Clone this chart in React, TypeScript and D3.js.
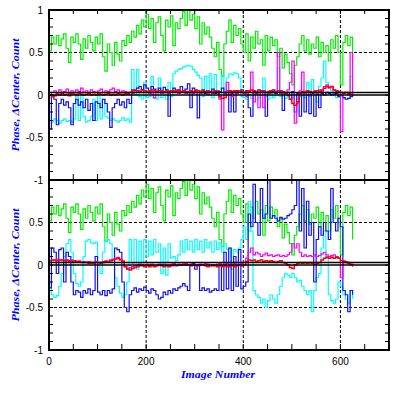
import React from 'react';
import * as d3 from 'd3';

// image numbers sampled every 5 frames
const images = d3.range(0, 626, 5);

// Count (same in both panels)
const count = [
  0.52, 0.68, 0.6, 0.7, 0.58, 0.66, 0.72, 0.55, 0.38, 0.68, 0.62, 0.72, 0.6, 0.42, 0.66, 0.55, 0.7, 0.62, 0.52, 0.68,
  0.6, 0.72, 0.45, 0.28, 0.6, 0.5, 0.35, 0.62, 0.48, 0.4, 0.64, 0.58, 0.7, 0.62, 0.75, 0.68, 0.82, 0.72, 0.88, 0.8,
  0.95, 0.78, 0.9, 0.62, 0.85, 0.92, 0.7, 0.52, 0.88, 0.8, 0.93, 0.58, 0.85, 0.78, 0.9, 0.98, 0.82, 1.0, 0.88, 0.95,
  0.78, 0.92, 0.6, 0.85, 0.72, 0.8, 0.68, 0.55, 0.45, 0.62, 0.3, 0.22, 0.6, 0.75, 0.88, 0.62, 0.82, 0.7, 0.78, 0.6,
  0.5, 0.72, 0.4, 0.68, 0.55, 0.75, 0.6, 0.65, 0.35, 0.7, 0.52, 0.68, 0.58, 0.65, 0.45, 0.55, 0.32, 0.48, 0.38, 0.25,
  0.12, 0.35, 0.45, 0.6, 0.7, 0.52, 0.65, 0.48, 0.6, 0.55, 0.68, 0.45, 0.62, 0.5, 0.58, 0.4, 0.65, 0.55, 0.7, 0.5,
  0.12, 0.62, 0.7, 0.58, 0.68, 0.3,
];

// top panel
const cyanTop = [
  -0.3, -0.32, -0.28, -0.3, -0.33, -0.3, -0.28, -0.31, -0.3, -0.32, -0.28, -0.02, -0.3, 0.0, -0.25, -0.32, -0.3, -0.25, -0.05, -0.3,
  0.0, -0.28, -0.05, -0.25, -0.27, -0.3, -0.28, -0.3, -0.32, -0.3, -0.27, -0.3, -0.28, -0.32, 0.3, 0.0, 0.3, -0.02, -0.05, 0.15,
  -0.03, -0.02, 0.22, -0.04, -0.05, 0.2, -0.03, 0.0, -0.05, 0.15, -0.02, 0.25, 0.28, 0.3, 0.31, 0.33, 0.34, 0.35, 0.34, 0.3,
  0.27, 0.23, 0.2, -0.02, 0.22, 0.0, 0.25, -0.03, 0.24, 0.02, -0.04, 0.23, 0.0, 0.2, 0.25, 0.24, 0.26, 0.25, 0.2, -0.02,
  -0.03, -0.05, 0.0, -0.04, 0.02, -0.05, -0.03, 0.0, 0.2, -0.02, -0.05, 0.02, -0.03, 0.0, 0.32, -0.02, 0.02, -0.04, -0.02, 0.03,
  -0.03, 0.0, -0.05, -0.02, 0.02, -0.03, 0.15, -0.02, 0.18, 0.05, -0.08, 0.1, 0.2, 0.4, 0.15, 0.1, 0.05, 0.02, -0.03, 0.0,
  -0.02, -0.04, -0.05, -0.04, 0.22, 0.0,
];
const blueTop = [
  -0.4, 0.0, -0.05, -0.35, -0.1, -0.05, -0.12, -0.08, -0.15, -0.35, -0.1, -0.05, -0.12, -0.08, -0.15, -0.05, -0.18, -0.1, -0.3, -0.08,
  -0.1, -0.15, -0.05, -0.1, -0.2, -0.38, -0.15, -0.1, -0.05, -0.12, -0.08, -0.15, -0.05, -0.1, 0.06, 0.05, 0.08, 0.1, 0.06, 0.12,
  0.08, 0.05, 0.1, 0.07, 0.04, 0.08, 0.05, 0.09, 0.06, -0.25, 0.05, 0.08, 0.04, 0.06, 0.1, 0.05, 0.07, 0.13, -0.15, 0.08,
  0.05, -0.27, 0.04, 0.06, 0.02, 0.05, 0.03, 0.07, 0.02, 0.05, 0.04, 0.08, 0.03, 0.05, -0.2, 0.02, -0.2, 0.05, 0.03, 0.06,
  0.02, 0.05, -0.15, -0.25, 0.04, 0.02, 0.06, 0.03, 0.05, -0.25, 0.02, 0.04, 0.06, 0.02, 0.03, 0.05, -0.18, 0.02, 0.03, -0.05,
  0.04, -0.2, 0.02, -0.25, 0.03, -0.2, 0.0, -0.22, 0.02, -0.25, 0.01, -0.15, 0.02, 0.0, 0.03, 0.02, 0.0, 0.01, 0.02, -0.02,
  0.0, -0.03, -0.05, -0.04, -0.02, 0.0,
];
const magentaTop = [
  0.0, 0.03, 0.05, 0.02, 0.06, 0.03, 0.04, 0.07, 0.02, 0.05, 0.03, 0.06, 0.04, 0.08, 0.03, 0.05, 0.02, 0.06, 0.04, 0.03,
  0.05, 0.07, 0.03, 0.05, 0.04, 0.06, 0.08, 0.04, 0.06, 0.03, 0.05, 0.04, 0.02, 0.03, 0.02, 0.03, 0.05, 0.04, 0.03, 0.05,
  0.04, 0.02, 0.04, -0.03, 0.03, 0.05, 0.02, 0.04, 0.03, 0.02, 0.04, 0.03, 0.05, 0.02, 0.04, 0.03, 0.02, 0.04, 0.03, 0.02,
  0.04, 0.03, 0.02, 0.04, 0.03, 0.01, 0.03, 0.02, 0.04, 0.03, -0.05, -0.41, 0.02, 0.15, 0.03, -0.02, 0.04, 0.02, 0.05, 0.03,
  0.02, -0.02, 0.05, 0.27, -0.08, 0.03, -0.15, 0.04, -0.15, 0.03, 0.02, 0.05, 0.03, 0.04, 0.5, 0.02, 0.04, 0.03, 0.06, 0.15,
  0.4, -0.33, -0.1, 0.05, 0.27, 0.02, 0.04, 0.0, 0.03, 0.05, 0.02, 0.06, 0.04, 0.1, 0.12, 0.08, 0.1, 0.06, 0.04, 0.03,
  -0.43, 0.02, 0.03, 0.0, 0.5, 0.02,
];
const redTop = [
  0.0, -0.02, -0.01, 0.01, 0.0, 0.02, 0.0, 0.01, -0.01, 0.02, 0.01, 0.0, 0.02, 0.01, 0.0, 0.01, 0.02, 0.0, 0.01, 0.0,
  0.02, 0.01, 0.0, 0.01, 0.02, 0.0, 0.01, 0.0, 0.02, 0.01, 0.0, 0.02, 0.01, 0.03, 0.05, 0.06, 0.05, 0.04, 0.06, 0.05,
  0.04, 0.05, 0.06, 0.05, 0.04, 0.05, 0.04, 0.03, 0.05, 0.04, 0.05, 0.04, 0.06, 0.05, 0.04, 0.05, 0.04, 0.03, 0.05, 0.04,
  0.06, 0.05, 0.04, 0.05, 0.04, 0.05, 0.04, 0.03, 0.05, 0.04, -0.02, -0.04, -0.03, 0.03, 0.05, 0.04, 0.05, 0.04, 0.05, 0.04,
  0.03, 0.05, 0.04, 0.06, 0.05, 0.04, 0.03, 0.05, 0.04, 0.03, 0.04, 0.05, 0.04, 0.03, 0.05, 0.04, 0.03, 0.02, 0.0, -0.05,
  -0.1, -0.12, -0.08, 0.02, 0.04, 0.03, 0.05, 0.04, 0.03, 0.04, 0.05, 0.04, 0.06, 0.08, 0.1, 0.09, 0.1, 0.06, 0.05, 0.04,
  0.03, 0.02, 0.03, 0.02, 0.01, 0.0,
];

// bottom panel
const cyanBottom = [
  -0.21, -0.35, -0.38, -0.36, -0.25, -0.1, 0.1, 0.25, 0.3, 0.15, -0.1, -0.22, -0.25, -0.2, 0.1, 0.28, 0.3, 0.26, 0.25, 0.27,
  0.0, -0.1, 0.15, 0.28, 0.3, 0.25, 0.05, -0.15, -0.25, -0.33, -0.38, -0.35, -0.2, 0.3, 0.02, 0.3, -0.05, 0.28, 0.0, 0.3,
  0.1, 0.28, 0.12, 0.3, 0.15, 0.25, -0.1, 0.2, -0.12, 0.25, 0.08, 0.1, 0.05, 0.12, 0.28, 0.15, 0.3, 0.18, 0.28, 0.15,
  0.3, 0.18, 0.28, 0.15, 0.3, 0.2, 0.27, 0.15, 0.28, 0.18, 0.26, 0.15, 0.25, 0.18, 0.2, -0.05, 0.18, 0.15, 0.2, 0.3,
  0.45, 0.3, 0.75, 0.4, -0.3, -0.35, -0.38, -0.45, -0.4, -0.5, -0.42, -0.35, -0.4, -0.45, -0.35, -0.25, -0.15, -0.1, -0.12, -0.15,
  -0.1, -0.15, -0.2, -0.18, -0.25, -0.3, -0.35, -0.3, -0.55, -0.3, -0.15, -0.1, 0.2, 0.4, 0.1, -0.35, -0.42, -0.45, -0.4, -0.2,
  -0.25, -0.35, -0.4, -0.45, -0.3, -0.4,
];
const blueBottom = [
  -0.27, 0.2, 0.15, -0.1, 0.18, 0.2, -0.2, 0.15, 0.1, -0.2, -0.35, -0.3, -0.32, -0.38, -0.3, -0.33, -0.28, -0.35, -0.3, 0.1,
  -0.32, -0.35, -0.3, -0.36, -0.3, -0.33, -0.28, 0.2, 0.18, 0.15, -0.2, -0.5, -0.55, -0.35, -0.3, -0.27, -0.32, -0.28, -0.3, -0.26,
  -0.3, -0.33, -0.28, -0.3, -0.35, -0.4, -0.38, -0.32, -0.35, -0.3, -0.33, -0.28, -0.3, -0.27, -0.25, -0.22, -0.25, -0.3, 0.0, 0.02,
  -0.05, 0.0, -0.3, -0.27, -0.3, -0.28, -0.32, -0.3, -0.28, -0.3, 0.0, -0.3, 0.15, -0.28, 0.2, -0.3, 0.1, -0.25, 0.18, -0.28,
  -0.25, -0.2, 0.6, 0.45, 0.95, 0.5, 0.35, 0.9, 0.55, 0.6, 1.0, 0.55, 0.58, 0.55, 0.52, 0.56, 0.54, 0.55, 0.58, 0.6,
  0.65, 0.7, 1.0, 0.4, 0.9, 0.2, 0.75, 0.35, 0.5, -0.2, 0.3, 0.45, 0.35, 0.5, 0.4, 0.3, 0.9, 0.5, 0.4, 0.55,
  0.45, -0.3, -0.35, -0.55, -0.3, -0.35,
];
const magentaBottom = [
  0.05, 0.06, 0.05, 0.07, 0.06, 0.05, 0.06, 0.05, 0.04, 0.06, 0.05, 0.04, 0.05, 0.03, 0.04, 0.03, 0.04, 0.02, 0.03, 0.04,
  0.02, 0.03, 0.04, 0.05, 0.04, 0.06, 0.07, 0.08, 0.09, 0.07, 0.05, -0.02, -0.05, -0.03, -0.02, -0.01, 0.0, 0.01, 0.0, -0.01,
  0.01, 0.0, 0.01, -0.01, 0.0, 0.01, 0.0, 0.01, 0.0, -0.01, 0.01, 0.02, 0.0, 0.01, 0.0, 0.01, 0.02, 0.0, 0.01, 0.0,
  -0.01, 0.0, 0.01, 0.0, 0.02, 0.01, 0.0, -0.01, 0.0, 0.01, 0.02, 0.0, 0.01, 0.02, 0.0, 0.01, 0.02, 0.03, 0.01, 0.02,
  0.03, 0.08, 0.15, 0.2, 0.12, 0.15, 0.13, 0.1, 0.12, 0.14, 0.11, 0.12, 0.1, 0.11, 0.12, 0.1, 0.11, 0.1, 0.12, 0.15,
  0.25, 0.2, 0.25, 0.15, 0.1, 0.12, 0.1, 0.11, 0.1, 0.12, 0.1, 0.11, 0.13, 0.15, 0.12, 0.1, 0.11, 0.12, 0.1, 0.08,
  -0.15, 0.05, 0.04, 0.03, 0.0, -0.02,
];
const redBottom = [
  0.05, 0.06, 0.06, 0.05, 0.06, 0.06, 0.05, 0.06, 0.05, 0.04, 0.05, 0.04, 0.04, 0.03, 0.03, 0.03, 0.02, 0.03, 0.02, 0.03,
  0.03, 0.02, 0.03, 0.04, 0.04, 0.05, 0.06, 0.07, 0.08, 0.06, 0.04, -0.02, -0.05, -0.06, -0.04, -0.03, -0.02, -0.01, -0.01, -0.02,
  -0.01, -0.02, -0.01, -0.02, -0.01, 0.0, -0.01, -0.02, -0.01, -0.02, -0.01, 0.0, -0.01, 0.0, 0.0, 0.01, 0.0, 0.0, -0.01, 0.0,
  0.0, -0.01, 0.0, 0.0, -0.01, -0.02, -0.01, 0.0, -0.01, -0.02, -0.01, -0.02, -0.01, -0.02, -0.02, -0.01, -0.02, -0.01, 0.0, -0.01,
  0.0, 0.04, 0.06, 0.05, 0.06, 0.04, 0.05, 0.06, 0.04, 0.05, 0.04, 0.05, 0.04, 0.03, 0.04, 0.05, 0.03, 0.02, 0.0, -0.03,
  -0.04, 0.0, 0.02, 0.03, 0.02, 0.03, 0.02, 0.03, 0.02, 0.01, 0.02, 0.03, 0.06, 0.08, 0.09, 0.08, 0.09, 0.08, 0.09, 0.08,
  0.05, 0.04, 0.03, 0.02, 0.01, 0.0,
];

const xTickLabels = [0, 200, 400, 600];
// the -1 of the top panel and the 1 of the bottom panel share one spot, printed once
const yTickLabelsTop = [1, 0.5, 0, -0.5, -1];
const yTickLabelsBottom = [0.5, 0, -0.5, -1];
const gridX = [200, 400, 600];
const gridY = [0.5, -0.5];
const zeroLines = [0, 0.03];

const W = 399;
const H = 399;
const left = 49;
const right = 389;

const x = d3.scaleLinear().domain([0, 700]).range([left, right]);

type Series = { values: number[]; color: string; width?: number };

const panels: { top: number; bottom: number; labels: number[]; series: Series[] }[] = [
  {
    top: 10,
    bottom: 180,
    labels: yTickLabelsTop,
    series: [
      { values: count, color: '#00f000' },
      { values: cyanTop, color: '#00ffff' },
      { values: blueTop, color: '#1010f0' },
      { values: magentaTop, color: '#ff00ff' },
      { values: redTop, color: '#ff0000', width: 1.5 },
    ],
  },
  {
    top: 180,
    bottom: 350,
    labels: yTickLabelsBottom,
    series: [
      { values: count, color: '#00f000' },
      { values: cyanBottom, color: '#00ffff' },
      { values: blueBottom, color: '#1010f0' },
      { values: magentaBottom, color: '#ff00ff' },
      { values: redBottom, color: '#ff0000', width: 1.5 },
    ],
  },
];

const Panel: React.FC<{ top: number; bottom: number; labels: number[]; series: Series[]; id: number }> = ({ top, bottom, labels, series, id }) => {
  const y = d3.scaleLinear().domain([-1, 1]).range([bottom, top]);
  const line = (vals: number[]) =>
    d3.line<number>()
      .x((_, i) => x(images[i]))
      .y(d => y(d))
      .curve(d3.curveStepAfter)(vals) || '';
  const xMinor = d3.range(0, 701, 50);
  const yMinor = d3.range(-10, 11).map(v => v / 10);
  return (
    <g>
      <defs>
        <clipPath id={`clip-${id}`}>
          <rect x={left} y={top} width={right - left} height={bottom - top} />
        </clipPath>
      </defs>
      {gridX.map(v => (
        <line key={`gx${v}`} x1={x(v)} x2={x(v)} y1={top} y2={bottom} stroke="#000" strokeDasharray="3,2" />
      ))}
      {gridY.map(v => (
        <line key={`gy${v}`} x1={left} x2={right} y1={y(v)} y2={y(v)} stroke="#000" strokeDasharray="3,2" />
      ))}
      <g clipPath={`url(#clip-${id})`}>
        {series.map((s, i) => (
          <path key={i} d={line(s.values)} fill="none" stroke={s.color} strokeWidth={s.width ?? 1.2} strokeLinejoin="miter" />
        ))}
      </g>
      {zeroLines.map(v => (
        <line key={`z${v}`} x1={left} x2={right} y1={y(v)} y2={y(v)} stroke="#000" strokeWidth={1.5} />
      ))}
      {xMinor.map(v => (
        <g key={`xt${v}`}>
          <line x1={x(v)} x2={x(v)} y1={bottom} y2={bottom - 6} stroke="#000" />
          <line x1={x(v)} x2={x(v)} y1={top} y2={top + 4} stroke="#000" />
        </g>
      ))}
      {yMinor.map(v => (
        <g key={`yt${v}`}>
          <line x1={left} x2={left + 4} y1={y(v)} y2={y(v)} stroke="#000" />
          <line x1={right} x2={right - 4} y1={y(v)} y2={y(v)} stroke="#000" />
        </g>
      ))}
      <rect x={left} y={top} width={right - left} height={bottom - top} fill="none" stroke="#000" strokeWidth={2} />
      {labels.map(v => (
        <text key={`yl${v}`} x={left - 6} y={y(v)} dy="0.35em" textAnchor="end" fontSize={10}
          fontFamily="Liberation Sans, sans-serif" fill="#000">
          {v.toString()}
        </text>
      ))}
      <text
        transform={`translate(15,${(top + bottom) / 2}) rotate(-90)`}
        textAnchor="middle"
        dy="0.35em"
        fontSize={11}
        fontStyle="italic"
        fontWeight="bold"
        fontFamily="Liberation Serif, serif"
        fill="#0000ff"
        textLength={113}
        lengthAdjust="spacingAndGlyphs"
      >
        Phase, ΔCenter, Count
      </text>
    </g>
  );
};

export default function App() {
  return (
    <svg width={W} height={H} style={{ position: 'absolute', left: 0, top: 0, background: '#fff' }}>
      <rect width={W} height={H} fill="#fff" />
      {panels.map((p, i) => (
        <Panel key={i} id={i} top={p.top} bottom={p.bottom} labels={p.labels} series={p.series} />
      ))}
      {xTickLabels.map(v => (
        <text key={v} x={x(v)} y={361} dy="0.35em" textAnchor="middle" fontSize={10}
          fontFamily="Liberation Sans, sans-serif" fill="#000">
          {v}
        </text>
      ))}
      <text x={218} y={374} dy="0.35em" textAnchor="middle" fontSize={11} fontStyle="italic" fontWeight="bold"
        fontFamily="Liberation Serif, serif" fill="#0000ff" textLength={74} lengthAdjust="spacingAndGlyphs">
        Image Number
      </text>
    </svg>
  );
}
